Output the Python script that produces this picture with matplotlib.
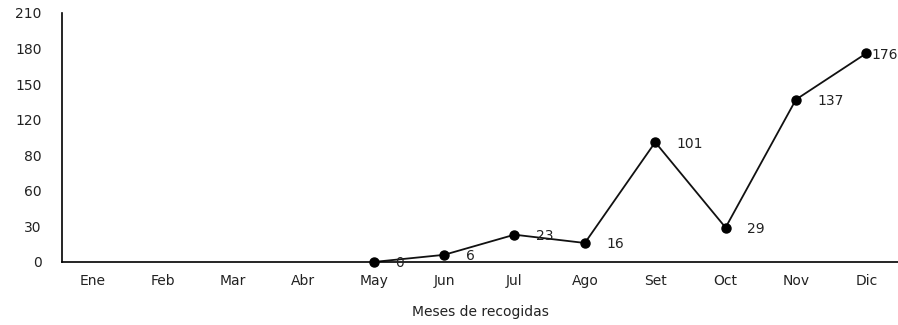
import matplotlib
matplotlib.use("Agg")
import matplotlib.pyplot as plt
import numpy as np

plt.rcParams['font.family'] = ['DejaVu Sans']

months = ['Ene', 'Feb', 'Mar', 'Abr', 'May', 'Jun', 'Jul', 'Ago', 'Set', 'Oct', 'Nov', 'Dic']
counts = [np.nan, np.nan, np.nan, np.nan, 0, 6, 23, 16, 101, 29, 137, 176]
ytick_values = [0, 30, 60, 90, 120, 150, 180, 210]
ytick_labels = ['0', '30', '60', '80', '120', '150', '180', '210']

fig = plt.figure(figsize=(8.98, 3.25), dpi=100)
ax = fig.add_axes([0.069, 0.194, 0.931, 0.766])

x = np.arange(len(months))
ax.plot(x, counts, color='#111111', linewidth=1.3, marker='o',
        markersize=6.5, markerfacecolor='black', markeredgecolor='black', clip_on=False)

# data labels to the right of each point, last one squeezed near the edge
for i, v in enumerate(counts):
    if np.isnan(v):
        continue
    dx = 3.5 if i == len(counts) - 1 else 15.5
    ax.annotate(str(int(v)), (i, v), xytext=(dx, -1), textcoords='offset points',
                ha='left', va='center', fontsize=10, color='#222222')

ax.set_xlim(-0.43, 11.45)
ax.set_ylim(0, 210)
ax.set_xticks(x)
ax.set_xticklabels(months, fontsize=10, color='#222222')
ax.set_yticks(ytick_values)
ax.set_yticklabels(ytick_labels, fontsize=10, color='#222222')
ax.tick_params(axis='both', length=0)
ax.tick_params(axis='x', pad=8.5)
ax.tick_params(axis='y', pad=14.5)

for side in ['top', 'right']:
    ax.spines[side].set_visible(False)
ax.spines['left'].set_linewidth(1.2)
ax.spines['bottom'].set_linewidth(1.2)

ax.set_xlabel('Meses de recogidas', fontsize=10, color='#222222', labelpad=12.5)

plt.savefig('out.png', dpi=100)
